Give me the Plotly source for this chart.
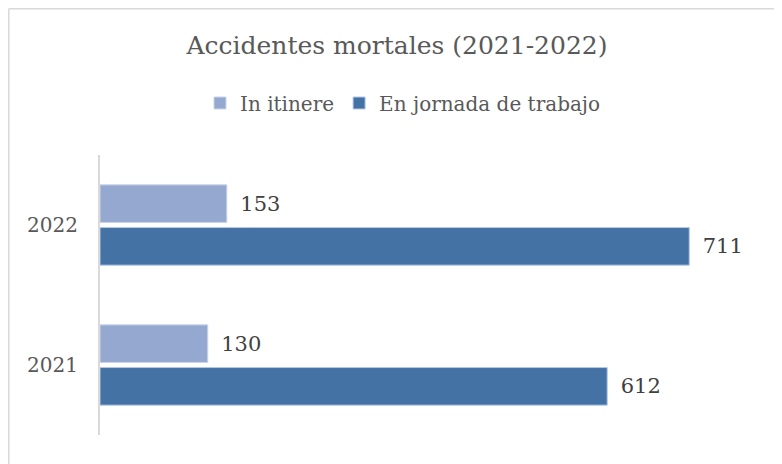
import plotly.graph_objects as go

years = ["2021", "2022"]
itinere = [130, 153]
jornada = [612, 711]

FONT = "DejaVu Serif"
TXT = "#595959"

# page body has an 8px margin, so the figure is drawn 8px in from the top-left
OFF = 8
W, H = 782 - OFF, 464 - OFF
L, R, T, B = 100 - OFF, 19, 155 - OFF, 29
pw, ph = W - L - R, H - T - B

def px(x):
    return (x - OFF - L) / pw

def py(y):
    return (H - B - (y - OFF)) / ph

fig = go.Figure()
fig.add_trace(go.Bar(
    y=years, x=jornada, orientation="h", name="En jornada de trabajo",
    marker=dict(color="#4472A4", line=dict(color="#B4C7E7", width=1)),
    text=["\u2002" + str(v) for v in jornada], textposition="outside",
    textfont=dict(family=FONT, size=21, color="#404040"), cliponaxis=False,
))
fig.add_trace(go.Bar(
    y=years, x=itinere, orientation="h", name="In itinere",
    marker=dict(color="#95A9D0", line=dict(color="#C9D4EA", width=1)),
    text=["\u2002" + str(v) for v in itinere], textposition="outside",
    textfont=dict(family=FONT, size=21, color="#404040"), cliponaxis=False,
))

fig.update_layout(
    width=W, height=H,
    margin=dict(l=L, r=R, t=T, b=B, autoexpand=False),
    paper_bgcolor="white", plot_bgcolor="white",
    barmode="group", bargap=0.39, bargroupgap=0.12,
    title=dict(text="Accidentes mortales (2021-2022)", x=(397 - OFF) / W, xanchor="center",
               y=1 - (45 - OFF) / H, yanchor="middle",
               font=dict(family=FONT, size=25, color=TXT)),
    legend=dict(orientation="h", xref="container", x=(403 - OFF) / W, xanchor="center",
                y=1 - (103 - OFF) / H, yanchor="middle",
                yref="container", traceorder="reversed",
                font=dict(family=FONT, size=20, color=TXT), itemwidth=30),
    xaxis=dict(range=[0, 800], showgrid=False, showticklabels=False, zeroline=False,
               showline=False, fixedrange=True, automargin=False),
    yaxis=dict(type="category", categoryorder="array", categoryarray=years,
               showgrid=False, showline=True, linecolor="#D9D9D9", linewidth=2,
               tickfont=dict(family=FONT, size=20, color=TXT), ticks="",
               ticklabelstandoff=16, fixedrange=True, automargin=False),
    showlegend=True,
)

fig.add_shape(type="line", xref="paper", yref="paper",
              x0=px(8.8), x1=px(8.8), y0=py(8.8), y1=py(470),
              line=dict(color="#D9D9D9", width=1.5))
fig.add_shape(type="line", xref="paper", yref="paper",
              x0=px(8.8), x1=px(790), y0=py(8.8), y1=py(8.8),
              line=dict(color="#D9D9D9", width=1.5))

fig.write_html("out.html")
